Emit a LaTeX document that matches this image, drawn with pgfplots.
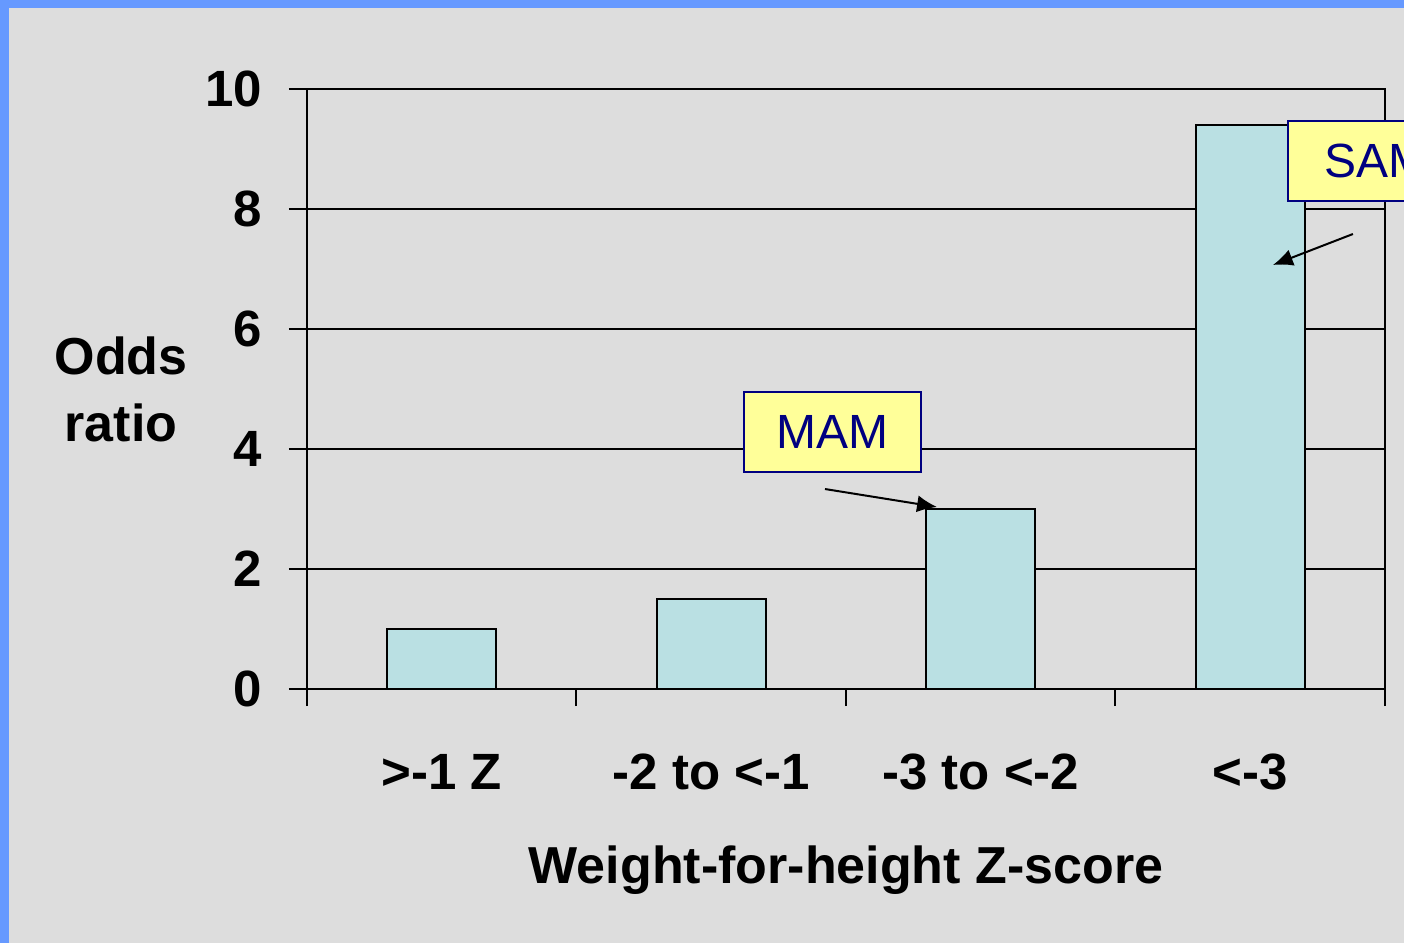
\documentclass[border=0pt]{standalone}
\usepackage{fontspec}
\setmainfont{Liberation Sans}
\usepackage{pgfplots}
\pgfplotsset{compat=1.18}
\usetikzlibrary{arrows.meta}
\definecolor{bg}{HTML}{DDDDDD}
\definecolor{frameblue}{HTML}{6699FF}
\definecolor{barfill}{HTML}{BAE0E3}
\definecolor{boxfill}{HTML}{FFFF99}
\definecolor{navyc}{HTML}{000080}
\pgfplotstableread{
x y
0 1.0
1 1.5
2 3.0
3 9.4
}\datatable
\begin{document}
\begin{tikzpicture}
\fill[bg] (-153.5pt,-127pt) rectangle (548.5pt,344.5pt);
\fill[frameblue] (-153.5pt,340.5pt) rectangle (548.5pt,344.5pt);
\fill[frameblue] (-153.5pt,-127pt) rectangle (-149pt,344.5pt);
\begin{scope}
\clip (-153.5pt,-127pt) rectangle (548.5pt,344.5pt);
\begin{axis}[
  at={(0pt,0pt)}, anchor=south west,
  scale only axis, width=539pt, height=300pt,
  xmin=-0.5, xmax=3.5, ymin=0, ymax=10,
  ybar, bar width=54.5pt,
  xtick={0,1,2,3},
  xticklabels={{>-1 Z},{-2 to <-1},{-3 to <-2},{<-3}},
  minor xtick={-0.5,0.5,1.5,2.5,3.5},
  major x tick style={draw=none},
  ytick={0,2,4,6,8,10},
  tick align=outside,
  xtick pos=bottom, ytick pos=left,
  major tick length=9pt, minor tick length=8.5pt,
  tick style={black, line width=1pt},
  axis line style={black, line width=1pt},
  ymajorgrids, major grid style={black, line width=0.9pt},
  /pgf/number format/assume math mode=true,
  tick label style={font=\fontsize{25.5}{30}\selectfont\bfseries},
  xticklabel style={anchor=center, yshift=-32.5pt},
  yticklabel style={anchor=east, xshift=-10pt},
  xlabel={Weight-for-height Z-score},
  xlabel style={at={(axis description cs:0.5,-0.302)}, anchor=center, font=\fontsize{26}{31}\selectfont\bfseries},
  clip=false,
]
\addplot[fill=barfill, draw=black, line width=1pt] table[x=x,y=y] {\datatable};
\node[align=center, font=\fontsize{26}{33.5}\selectfont\bfseries] at (rel axis cs:-0.1725,0.5) {Odds\\ratio};
\draw[line width=1pt, -{Latex[length=10pt,width=8.5pt]}] (axis cs:1.422,3.333) -- (axis cs:1.838,3.033);
\draw[line width=1pt, -{Latex[length=10pt,width=8.5pt]}] (axis cs:3.381,7.583) -- (axis cs:3.084,7.067);
\node[draw=navyc, fill=boxfill, line width=1pt, text=navyc, minimum width=88.5pt, minimum height=40pt, inner sep=0pt, font=\fontsize{24}{28}\selectfont] at (axis cs:1.45,4.283) {MAM};
\node[draw=navyc, fill=boxfill, line width=1pt, text=navyc, minimum width=88.5pt, minimum height=40pt, inner sep=0pt, font=\fontsize{24}{28}\selectfont] at (axis cs:3.468,8.808) {SAM};
\end{axis}
\end{scope}
\end{tikzpicture}
\end{document}
